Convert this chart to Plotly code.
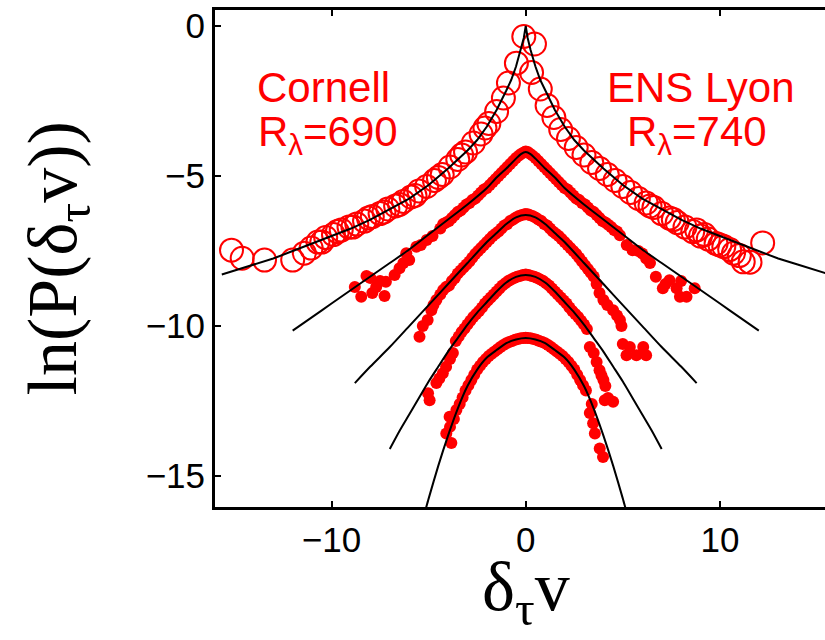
import plotly.graph_objects as go

# ---------------- data ----------------
# top series: open circles (Cornell on the left, ENS Lyon on the right)
circ_left_x = [-15.15, -14.6, -13.45, -12.0, -11.4, -11.05, -10.7, -10.3, -9.9, -9.5, -9.1, -8.7, -8.3, -7.9,
               -7.5, -7.1, -6.7, -6.3, -5.9, -5.5, -5.1, -4.7, -4.3, -3.9, -3.5, -3.1, -2.7, -2.3, -1.9,
               -1.5, -1.15, -0.89, -0.48, -0.1, -10.5, -9.7, -8.9, -8.1, -7.3, -6.5, -5.7, -4.5, -3.3, -2.1]
circ_left_y = [-7.47, -7.74, -7.8, -7.8, -7.57, -7.4, -7.2, -7.05, -6.95, -6.8, -6.7, -6.6, -6.5, -6.35,
               -6.25, -6.1, -6.0, -5.85, -5.7, -5.5, -5.35, -5.15, -4.95, -4.7, -4.45, -4.2, -3.9, -3.6, -3.25,
               -2.85, -2.4, -1.9, -1.24, -0.35, -7.2, -6.85, -6.7, -6.4, -6.2, -5.95, -5.65, -5.05, -4.3, -3.4]
circ_right_x = [0.45, 0.3, 0.75, 1.1, 1.45, 1.8, 2.2, 2.6, 3.0, 3.4, 3.8, 4.2, 4.6, 5.0, 5.4, 5.8, 6.2, 6.6,
                7.0, 7.4, 7.8, 8.2, 8.6, 9.0, 9.4, 9.8, 10.2, 10.7, 11.2, 11.55, 12.2,
                9.2, 10.0, 10.5, 11.0, 8.8, 7.6, 6.4]
circ_right_y = [-0.6, -1.55, -2.1, -2.65, -3.05, -3.45, -3.75, -4.05, -4.3, -4.55, -4.75, -4.95, -5.15, -5.35,
                -5.55, -5.75, -5.9, -6.05, -6.25, -6.4, -6.55, -6.7, -6.85, -7.0, -7.1, -7.25, -7.35, -7.57,
                -7.86, -7.87, -7.23,
                -6.95, -7.3, -7.45, -7.65, -6.8, -6.45, -6.0]

# filled dots, series 2 (peak about -4.2)
dots2_x = [-4.4, -4.1, -3.8, -3.5, -3.2, -2.9, -2.6, -2.3, -2.0, -1.7, -1.4, -1.1, -0.8, -0.5, -0.2, 0.0,
           0.2, 0.5, 0.8, 1.1, 1.4, 1.7, 2.0, 2.3, 2.6, 2.9, 3.2, 3.5, 3.8, 4.1, 4.4, 4.7,
           -4.25, -3.95, -3.65, -3.35, -3.05, -2.75, -2.45, -2.15, -1.85, -1.55, -1.25, -0.95, -0.65, -0.35,
           -0.05, 0.1, 0.35, 0.65, 0.95, 1.25, 1.55, 1.85, 2.15, 2.45, 2.75, 3.05, 3.35, 3.65, 3.95, 4.25, 4.55,
           -4.8, -5.1, -5.4, -5.63, -6.0, -6.15, -6.3, -6.5, -6.75, -7.2, -7.27, -7.5, -7.7, -7.9, -8.0,
           -8.2, -8.47, -8.8,
           4.85, 5.2, 5.5, 5.8, 6.0, 6.2, 6.4, 6.7, 7.06, 7.2, 7.4, 7.77, 7.94, 8.0, 8.28, 8.7]
dots2_y = [-6.75, -6.55, -6.4, -6.2, -6.05, -5.9, -5.75, -5.55, -5.4, -5.2, -5.0, -4.8, -4.6, -4.4, -4.25, -4.18,
           -4.25, -4.4, -4.6, -4.8, -5.0, -5.2, -5.4, -5.55, -5.75, -5.9, -6.05, -6.2, -6.4, -6.55, -6.7, -6.85,
           -6.6, -6.5, -6.3, -6.15, -5.95, -5.8, -5.65, -5.45, -5.3, -5.1, -4.9, -4.7, -4.5, -4.32,
           -4.2, -4.2, -4.32, -4.5, -4.7, -4.9, -5.1, -5.3, -5.45, -5.65, -5.8, -5.95, -6.15, -6.3, -6.5, -6.62, -6.8,
           -7.0, -7.13, -7.3, -7.36, -7.8, -7.57, -7.9, -8.07, -8.3, -8.52, -9.0, -8.5, -8.7, -8.9, -8.4,
           -8.33, -9.02, -8.7,
           -6.97, -7.3, -7.47, -7.5, -7.58, -7.75, -7.9, -8.36, -8.74, -8.6, -8.47, -8.74, -9.02, -8.5, -9.02, -8.74]

# filled dots, series 3 (peak about -6.3)
dots3_x = [-4.4, -4.1, -3.8, -3.5, -3.2, -2.9, -2.6, -2.3, -2.0, -1.7, -1.4, -1.1, -0.8, -0.5, -0.2, 0.0,
           0.2, 0.5, 0.8, 1.1, 1.4, 1.7, 2.0, 2.3, 2.6, 2.9, 3.2, 3.5,
           -4.25, -3.95, -3.65, -3.35, -3.05, -2.75, -2.45, -2.15, -1.85, -1.55, -1.25, -0.95, -0.65, -0.35,
           -0.05, 0.1, 0.35, 0.65, 0.95, 1.25, 1.55, 1.85, 2.15, 2.45, 2.75, 3.05, 3.35,
           -4.6, -4.75, -4.86, -5.05, -5.3, -5.47,
           3.65, 3.8, 4.0, 4.2, 4.5, 4.7, 4.85, 4.93, 5.0, 5.19, 5.36, 5.7, 6.05, 6.2]
dots3_y = [-8.95, -8.7, -8.5, -8.25, -8.05, -7.85, -7.6, -7.4, -7.2, -7.0, -6.85, -6.65, -6.5, -6.38, -6.3, -6.27,
           -6.3, -6.38, -6.5, -6.65, -6.85, -7.0, -7.2, -7.4, -7.6, -7.85, -8.1, -8.35,
           -8.8, -8.65, -8.4, -8.15, -7.95, -7.72, -7.5, -7.3, -7.1, -6.92, -6.75, -6.6, -6.45, -6.33,
           -6.27, -6.27, -6.33, -6.45, -6.6, -6.75, -6.92, -7.1, -7.3, -7.5, -7.72, -7.97, -8.22,
           -9.13, -9.3, -9.47, -9.8, -10.0, -10.36,
           -8.6, -8.9, -9.13, -9.3, -9.47, -9.65, -9.8, -10.0, -10.6, -10.97, -10.7, -10.97, -10.7, -10.97]

# filled dots, series 4 (peak about -8.3)
dots4_x = [-3.6, -3.3, -3.0, -2.7, -2.4, -2.1, -1.8, -1.5, -1.2, -0.9, -0.6, -0.3, 0.0,
           0.3, 0.6, 0.9, 1.2, 1.5, 1.8, 2.1, 2.4, 2.7, 3.0,
           -3.45, -3.15, -2.85, -2.55, -2.25, -1.95, -1.65, -1.35, -1.05, -0.75, -0.45, -0.15,
           0.15, 0.45, 0.75, 1.05, 1.35, 1.65, 1.95, 2.25, 2.55, 2.85, 3.15,
           -3.75, -3.9, -4.1, -4.27, -4.45, -4.6, -5.03, -4.95,
           3.3, 3.5, 3.65, 3.8, 3.9, 4.0, 4.1, 4.07, 4.24, 4.5]
dots4_y = [-10.5, -10.2, -9.95, -9.7, -9.5, -9.25, -9.05, -8.85, -8.65, -8.5, -8.4, -8.33, -8.28,
           -8.33, -8.4, -8.5, -8.65, -8.85, -9.05, -9.25, -9.5, -9.7, -9.95,
           -10.35, -10.08, -9.82, -9.6, -9.38, -9.15, -8.95, -8.75, -8.57, -8.45, -8.36, -8.3,
           -8.3, -8.36, -8.45, -8.57, -8.75, -8.95, -9.15, -9.38, -9.6, -9.82, -10.1,
           -10.9, -11.1, -11.36, -11.57, -11.75, -11.9, -12.24, -12.47,
           -10.7, -10.9, -11.2, -11.47, -11.65, -11.8, -12.0, -12.47, -12.4, -12.52]

# filled dots, series 5 (peak about -10.4)
dots5_x = [-3.4, -3.1, -2.8, -2.5, -2.2, -1.9, -1.6, -1.3, -1.0, -0.7, -0.4, -0.1,
           0.1, 0.4, 0.7, 1.0, 1.3, 1.6, 1.9, 2.2, 2.5, 2.8, 3.1,
           -3.25, -2.95, -2.65, -2.35, -2.05, -1.75, -1.45, -1.15, -0.85, -0.55, -0.25, 0.0,
           0.25, 0.55, 0.85, 1.15, 1.45, 1.75, 2.05, 2.35, 2.65, 2.95,
           -3.57, -3.7, -3.92, -3.9, -4.09, -3.83,
           3.3, 3.4, 3.47, 3.56, 3.81, 3.98]
dots5_y = [-12.6, -12.15, -11.8, -11.45, -11.2, -11.0, -10.85, -10.7, -10.57, -10.5, -10.43, -10.4,
           -10.4, -10.43, -10.5, -10.57, -10.7, -10.85, -11.0, -11.2, -11.45, -11.8, -12.15,
           -12.38, -11.97, -11.62, -11.32, -11.1, -10.92, -10.77, -10.63, -10.53, -10.46, -10.41, -10.39,
           -10.41, -10.46, -10.53, -10.63, -10.77, -10.92, -11.1, -11.32, -11.62, -11.97,
           -12.8, -13.1, -13.02, -13.36, -13.58, -13.9,
           -12.9, -12.6, -13.24, -13.58, -14.08, -14.36]

# black model curves
fit1_x = [-15.65, -15, -14, -13, -12, -11, -10, -9, -8, -7, -6, -5, -4, -3, -2.5, -2, -1.5, -1, -0.75,
          -0.5, -0.25, -0.1, 0, 0.1, 0.25, 0.5, 0.75, 1, 1.5, 2, 2.5, 3, 4, 5, 6, 7, 8, 9, 10, 11, 12,
          13, 14, 15, 16]
fit1_y = [-8.28, -8.15, -7.95, -7.75, -7.5, -7.25, -7.0, -6.75, -6.45, -6.1, -5.75, -5.3, -4.75, -4.15, -3.8,
          -3.35, -2.8, -2.15, -1.8, -1.35, -0.8, -0.4, 0.0, -0.4, -0.8, -1.35, -1.8, -2.15, -2.8, -3.35,
          -3.8, -4.15, -4.75, -5.3, -5.75, -6.1, -6.45, -6.75, -7.0, -7.25, -7.5, -7.75, -7.95, -8.15, -8.35]
fit2_x = [-12, -11, -10, -9, -8, -7, -6, -5, -4, -3, -2, -1.5, -1, -0.5, -0.25, 0,
          0.25, 0.5, 1, 1.5, 2, 3, 4, 5, 6, 7, 8, 9, 10, 11, 12]
fit2_y = [-10.15, -9.7, -9.25, -8.8, -8.35, -7.9, -7.45, -6.95, -6.45, -5.95, -5.4, -5.05, -4.75, -4.42, -4.27, -4.2,
          -4.27, -4.42, -4.75, -5.05, -5.4, -5.95, -6.45, -6.95, -7.45, -7.9, -8.35, -8.8, -9.25, -9.7, -10.15]
fit3_x = [-8.8, -8, -7, -6, -5, -4, -3, -2, -1.5, -1, -0.5, 0, 0.5, 1, 1.5, 2, 3, 4, 5, 6, 7, 8, 8.8]
fit3_y = [-11.9, -11.35, -10.7, -10.0, -9.3, -8.6, -7.9, -7.2, -6.9, -6.6, -6.38, -6.3,
          -6.38, -6.6, -6.9, -7.2, -7.9, -8.6, -9.3, -10.0, -10.7, -11.35, -11.9]
fit4_x = [-7, -6.5, -6, -5.5, -5, -4.5, -4, -3.5, -3, -2.5, -2, -1.5, -1, -0.5, 0,
          0.5, 1, 1.5, 2, 2.5, 3, 3.5, 4, 4.5, 5, 5.5, 6, 6.5, 7]
fit4_y = [-14.1, -13.5, -12.95, -12.4, -11.85, -11.35, -10.85, -10.4, -9.95, -9.55, -9.2, -8.85, -8.55, -8.36, -8.3,
          -8.36, -8.55, -8.85, -9.2, -9.55, -9.95, -10.4, -10.85, -11.35, -11.85, -12.4, -12.95, -13.5, -14.1]
fit5_x = [-5.15, -5, -4.5, -4, -3.5, -3, -2.5, -2, -1.5, -1, -0.5, 0,
          0.5, 1, 1.5, 2, 2.5, 3, 3.5, 4, 4.5, 5, 5.15]
fit5_y = [-16.1, -15.75, -14.65, -13.65, -12.75, -12.0, -11.45, -11.05, -10.8, -10.57, -10.45, -10.4,
          -10.45, -10.57, -10.8, -11.05, -11.45, -12.0, -12.75, -13.65, -14.65, -15.75, -16.1]

x_ticks = [-10, 0, 10]
y_ticks = [-15, -10, -5, 0]

# ---------------- figure ----------------
RED = "#ff0000"
fig = go.Figure()

for dx, dy in [(dots2_x, dots2_y), (dots3_x, dots3_y), (dots4_x, dots4_y), (dots5_x, dots5_y)]:
    fig.add_trace(go.Scatter(x=dx, y=dy, mode="markers",
                             marker=dict(size=12, color=RED, line=dict(width=0))))

for cx, cy in [(circ_left_x, circ_left_y), (circ_right_x, circ_right_y)]:
    fig.add_trace(go.Scatter(x=cx, y=cy, mode="markers",
                             marker=dict(size=23, color=RED, symbol="circle-open",
                                         line=dict(width=2, color=RED))))

fig.add_trace(go.Scatter(x=fit1_x, y=fit1_y, mode="lines", line=dict(color="black", width=2)))
for fx, fy in [(fit2_x, fit2_y), (fit3_x, fit3_y), (fit4_x, fit4_y), (fit5_x, fit5_y)]:
    fig.add_trace(go.Scatter(x=fx, y=fy, mode="lines",
                             line=dict(color="black", width=2, shape="spline", smoothing=0.6)))

TICKFONT = dict(family="Liberation Sans, Arial, sans-serif", size=35, color="black")
fig.update_xaxes(range=[-16, 15.41], tickvals=x_ticks, ticks="inside", ticklen=6, tickwidth=1.5,
                 tickcolor="black", showline=True, linewidth=3, linecolor="black", mirror="ticks",
                 showgrid=False, zeroline=False, tickfont=TICKFONT)
fig.update_yaxes(range=[-16.03, 0.533], tickvals=y_ticks, ticks="inside", ticklen=6, tickwidth=1.5,
                 tickcolor="black", showline=True, linewidth=3, linecolor="black", mirror=False,
                 showgrid=False, zeroline=False, tickfont=TICKFONT)

ANN = dict(family="Liberation Sans, Arial, sans-serif", size=42, color=RED)
SERIF = dict(family="Liberation Serif, Times New Roman, serif", size=70, color="black")
annotations = [
    dict(x=-10.4, y=-2.05, text="Cornell", font=ANN),
    dict(x=-10.2, y=-3.6, text="R<sub>λ</sub>=690", font=ANN),
    dict(x=9.05, y=-2.05, text="ENS Lyon", font=ANN),
    dict(x=8.8, y=-3.6, text="R<sub>λ</sub>=740", font=ANN),
]
for a in annotations:
    fig.add_annotation(xref="x", yref="y", showarrow=False, xanchor="center", yanchor="middle", **a)

fig.add_annotation(xref="x", yref="paper", x=0, y=0, yshift=-85, showarrow=False,
                   xanchor="center", yanchor="middle", text="δ<sub>τ</sub>v", font=SERIF)
fig.add_annotation(xref="paper", yref="paper", x=0, y=0.5, xshift=-158, showarrow=False,
                   xanchor="center", yanchor="middle", textangle=-90,
                   text="ln(P(δ<sub>τ</sub>v))", font=SERIF)

fig.update_layout(width=825, height=640, margin=dict(l=215, r=0, t=10, b=133, pad=0),
                  plot_bgcolor="white", paper_bgcolor="white", showlegend=False)

fig.write_html("out.html")
